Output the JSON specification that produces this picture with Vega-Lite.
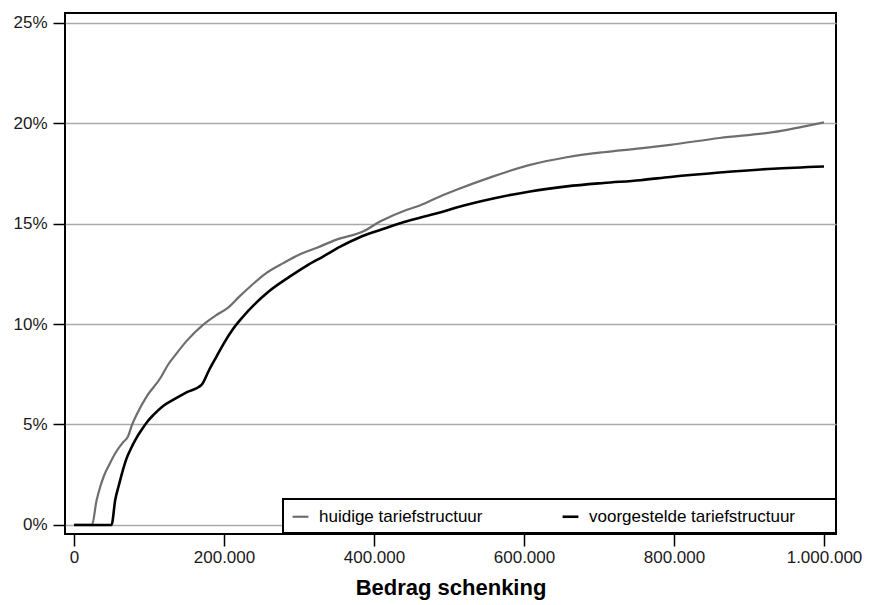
{
  "$schema": "https://vega.github.io/schema/vega-lite/v6.json",
  "width": 771,
  "height": 521,
  "autosize": {"type": "none"},
  "padding": {"left": 65, "top": 13, "right": 43, "bottom": 71},
  "background": "white",
  "config": {
    "view": {"stroke": "#000000", "strokeWidth": 2},
    "font": "Liberation Sans",
    "axis": {"labelFont": "Liberation Sans", "titleFont": "Liberation Sans"},
    "legend": {"strokeWidth": 2}
  },
  "datasets": {
    "rows": [
      {"bedrag": 0, "tarief": 0, "structuur": "huidige tariefstructuur"},
      {"bedrag": 24000, "tarief": 0, "structuur": "huidige tariefstructuur"},
      {"bedrag": 30000, "tarief": 0.012, "structuur": "huidige tariefstructuur"},
      {"bedrag": 35000, "tarief": 0.019, "structuur": "huidige tariefstructuur"},
      {"bedrag": 40000, "tarief": 0.0245, "structuur": "huidige tariefstructuur"},
      {"bedrag": 47000, "tarief": 0.030, "structuur": "huidige tariefstructuur"},
      {"bedrag": 55000, "tarief": 0.0357, "structuur": "huidige tariefstructuur"},
      {"bedrag": 65000, "tarief": 0.041, "structuur": "huidige tariefstructuur"},
      {"bedrag": 72000, "tarief": 0.044, "structuur": "huidige tariefstructuur"},
      {"bedrag": 77000, "tarief": 0.0495, "structuur": "huidige tariefstructuur"},
      {"bedrag": 85000, "tarief": 0.056, "structuur": "huidige tariefstructuur"},
      {"bedrag": 97000, "tarief": 0.064, "structuur": "huidige tariefstructuur"},
      {"bedrag": 115000, "tarief": 0.073, "structuur": "huidige tariefstructuur"},
      {"bedrag": 125000, "tarief": 0.0795, "structuur": "huidige tariefstructuur"},
      {"bedrag": 137000, "tarief": 0.0855, "structuur": "huidige tariefstructuur"},
      {"bedrag": 150000, "tarief": 0.0915, "structuur": "huidige tariefstructuur"},
      {"bedrag": 172000, "tarief": 0.0996, "structuur": "huidige tariefstructuur"},
      {"bedrag": 190000, "tarief": 0.1045, "structuur": "huidige tariefstructuur"},
      {"bedrag": 205000, "tarief": 0.108, "structuur": "huidige tariefstructuur"},
      {"bedrag": 220000, "tarief": 0.1135, "structuur": "huidige tariefstructuur"},
      {"bedrag": 235000, "tarief": 0.1187, "structuur": "huidige tariefstructuur"},
      {"bedrag": 255000, "tarief": 0.125, "structuur": "huidige tariefstructuur"},
      {"bedrag": 279000, "tarief": 0.1303, "structuur": "huidige tariefstructuur"},
      {"bedrag": 300000, "tarief": 0.1345, "structuur": "huidige tariefstructuur"},
      {"bedrag": 324000, "tarief": 0.138, "structuur": "huidige tariefstructuur"},
      {"bedrag": 350000, "tarief": 0.142, "structuur": "huidige tariefstructuur"},
      {"bedrag": 386000, "tarief": 0.1462, "structuur": "huidige tariefstructuur"},
      {"bedrag": 408000, "tarief": 0.151, "structuur": "huidige tariefstructuur"},
      {"bedrag": 444000, "tarief": 0.1569, "structuur": "huidige tariefstructuur"},
      {"bedrag": 461000, "tarief": 0.159, "structuur": "huidige tariefstructuur"},
      {"bedrag": 488000, "tarief": 0.1635, "structuur": "huidige tariefstructuur"},
      {"bedrag": 510000, "tarief": 0.1668, "structuur": "huidige tariefstructuur"},
      {"bedrag": 559000, "tarief": 0.1735, "structuur": "huidige tariefstructuur"},
      {"bedrag": 608000, "tarief": 0.1792, "structuur": "huidige tariefstructuur"},
      {"bedrag": 657000, "tarief": 0.183, "structuur": "huidige tariefstructuur"},
      {"bedrag": 706000, "tarief": 0.1855, "structuur": "huidige tariefstructuur"},
      {"bedrag": 755000, "tarief": 0.1874, "structuur": "huidige tariefstructuur"},
      {"bedrag": 795000, "tarief": 0.1892, "structuur": "huidige tariefstructuur"},
      {"bedrag": 861000, "tarief": 0.1926, "structuur": "huidige tariefstructuur"},
      {"bedrag": 932000, "tarief": 0.1955, "structuur": "huidige tariefstructuur"},
      {"bedrag": 1000000, "tarief": 0.2004, "structuur": "huidige tariefstructuur"},
      {"bedrag": 0, "tarief": 0, "structuur": "voorgestelde tariefstructuur"},
      {"bedrag": 50000, "tarief": 0, "structuur": "voorgestelde tariefstructuur"},
      {"bedrag": 55000, "tarief": 0.0125, "structuur": "voorgestelde tariefstructuur"},
      {"bedrag": 60000, "tarief": 0.020, "structuur": "voorgestelde tariefstructuur"},
      {"bedrag": 64000, "tarief": 0.0257, "structuur": "voorgestelde tariefstructuur"},
      {"bedrag": 70000, "tarief": 0.033, "structuur": "voorgestelde tariefstructuur"},
      {"bedrag": 75000, "tarief": 0.0373, "structuur": "voorgestelde tariefstructuur"},
      {"bedrag": 82000, "tarief": 0.0425, "structuur": "voorgestelde tariefstructuur"},
      {"bedrag": 90000, "tarief": 0.0473, "structuur": "voorgestelde tariefstructuur"},
      {"bedrag": 98000, "tarief": 0.0515, "structuur": "voorgestelde tariefstructuur"},
      {"bedrag": 106000, "tarief": 0.0548, "structuur": "voorgestelde tariefstructuur"},
      {"bedrag": 118000, "tarief": 0.059, "structuur": "voorgestelde tariefstructuur"},
      {"bedrag": 132000, "tarief": 0.0622, "structuur": "voorgestelde tariefstructuur"},
      {"bedrag": 150000, "tarief": 0.066, "structuur": "voorgestelde tariefstructuur"},
      {"bedrag": 170000, "tarief": 0.0697, "structuur": "voorgestelde tariefstructuur"},
      {"bedrag": 180000, "tarief": 0.077, "structuur": "voorgestelde tariefstructuur"},
      {"bedrag": 190000, "tarief": 0.0838, "structuur": "voorgestelde tariefstructuur"},
      {"bedrag": 200000, "tarief": 0.0905, "structuur": "voorgestelde tariefstructuur"},
      {"bedrag": 212000, "tarief": 0.0975, "structuur": "voorgestelde tariefstructuur"},
      {"bedrag": 225000, "tarief": 0.1035, "structuur": "voorgestelde tariefstructuur"},
      {"bedrag": 240000, "tarief": 0.1095, "structuur": "voorgestelde tariefstructuur"},
      {"bedrag": 260000, "tarief": 0.1163, "structuur": "voorgestelde tariefstructuur"},
      {"bedrag": 288000, "tarief": 0.1237, "structuur": "voorgestelde tariefstructuur"},
      {"bedrag": 310000, "tarief": 0.129, "structuur": "voorgestelde tariefstructuur"},
      {"bedrag": 332000, "tarief": 0.1336, "structuur": "voorgestelde tariefstructuur"},
      {"bedrag": 355000, "tarief": 0.1385, "structuur": "voorgestelde tariefstructuur"},
      {"bedrag": 381000, "tarief": 0.1432, "structuur": "voorgestelde tariefstructuur"},
      {"bedrag": 410000, "tarief": 0.147, "structuur": "voorgestelde tariefstructuur"},
      {"bedrag": 435000, "tarief": 0.1502, "structuur": "voorgestelde tariefstructuur"},
      {"bedrag": 461000, "tarief": 0.1529, "structuur": "voorgestelde tariefstructuur"},
      {"bedrag": 488000, "tarief": 0.1555, "structuur": "voorgestelde tariefstructuur"},
      {"bedrag": 510000, "tarief": 0.158, "structuur": "voorgestelde tariefstructuur"},
      {"bedrag": 559000, "tarief": 0.1625, "structuur": "voorgestelde tariefstructuur"},
      {"bedrag": 608000, "tarief": 0.166, "structuur": "voorgestelde tariefstructuur"},
      {"bedrag": 657000, "tarief": 0.1685, "structuur": "voorgestelde tariefstructuur"},
      {"bedrag": 706000, "tarief": 0.1702, "structuur": "voorgestelde tariefstructuur"},
      {"bedrag": 755000, "tarief": 0.1716, "structuur": "voorgestelde tariefstructuur"},
      {"bedrag": 795000, "tarief": 0.1732, "structuur": "voorgestelde tariefstructuur"},
      {"bedrag": 861000, "tarief": 0.1754, "structuur": "voorgestelde tariefstructuur"},
      {"bedrag": 932000, "tarief": 0.1773, "structuur": "voorgestelde tariefstructuur"},
      {"bedrag": 1000000, "tarief": 0.1784, "structuur": "voorgestelde tariefstructuur"}
    ]
  },
  "data": {"name": "rows"},
  "mark": {"type": "line", "interpolate": "monotone", "clip": true},
  "encoding": {
    "x": {
      "field": "bedrag",
      "type": "quantitative",
      "title": "Bedrag schenking",
      "scale": {"domain": [-12000, 1016000], "nice": false, "zero": false},
      "axis": {
        "values": [0, 200000, 400000, 600000, 800000, 1000000],
        "labelExpr": "replace(replace(format(datum.value, ','), ',', '.'), ',', '.')",
        "grid": false,
        "domain": false,
        "ticks": true,
        "tickSize": 12,
        "tickColor": "#000000",
        "tickWidth": 1.5,
        "labelFontSize": 17,
        "labelColor": "#1a1a1a",
        "labelPadding": 3,
        "titleFontSize": 22,
        "titleFontWeight": "bold",
        "titleColor": "#000000",
        "titlePadding": 12
      }
    },
    "y": {
      "field": "tarief",
      "type": "quantitative",
      "title": null,
      "scale": {"domain": [-0.0045, 0.2548], "nice": false, "zero": false},
      "axis": {
        "values": [0, 0.05, 0.1, 0.15, 0.2, 0.25],
        "format": ".0%",
        "grid": true,
        "gridColor": "#aaaaaa",
        "gridWidth": 1.5,
        "domain": false,
        "ticks": true,
        "tickSize": 12,
        "tickColor": "#000000",
        "tickWidth": 1.5,
        "labelFontSize": 17,
        "labelColor": "#1a1a1a",
        "labelPadding": 6
      }
    },
    "color": {
      "field": "structuur",
      "type": "nominal",
      "scale": {
        "domain": ["huidige tariefstructuur", "voorgestelde tariefstructuur"],
        "range": ["#6e6e6e", "#000000"]
      },
      "legend": {
        "title": "\u00a0",
        "titleOrient": "right",
        "titlePadding": 33,
        "titleFontSize": 10,
        "orient": "none",
        "legendX": 218,
        "legendY": 486,
        "direction": "horizontal",
        "columns": 2,
        "columnPadding": 74,
        "symbolType": "stroke",
        "symbolSize": 250,
        "symbolStrokeWidth": 2,
        "labelFontSize": 17,
        "labelFont": "Liberation Sans",
        "labelColor": "#000000",
        "labelOffset": 9,
        "labelLimit": 400,
        "padding": 8,
        "strokeColor": "#000000",
        "fillColor": "#ffffff"
      }
    },
    "strokeWidth": {
      "field": "structuur",
      "type": "nominal",
      "scale": {
        "domain": ["huidige tariefstructuur", "voorgestelde tariefstructuur"],
        "range": [2.2, 2.6]
      },
      "legend": null
    }
  }
}
